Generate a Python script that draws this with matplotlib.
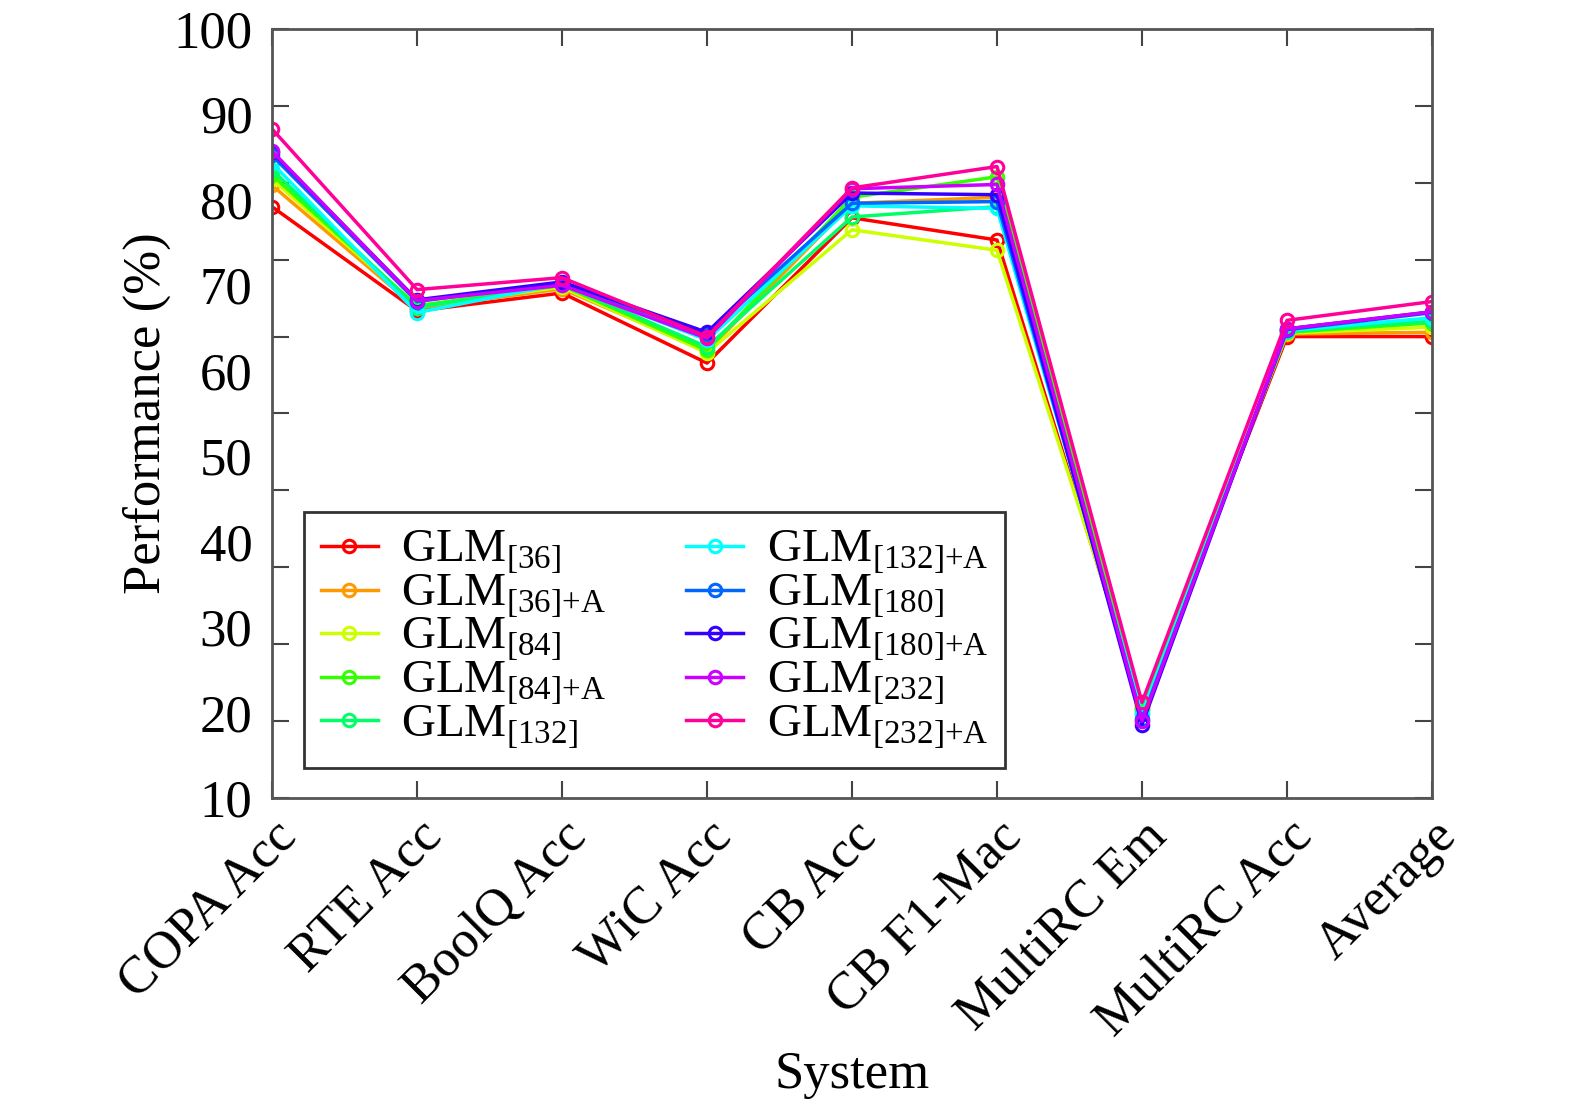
import matplotlib
matplotlib.use('Agg')
import matplotlib.pyplot as plt
import numpy as np

plt.rcParams['font.family'] = ['Liberation Serif', 'DejaVu Serif']
plt.rcParams['mathtext.fontset'] = 'custom'
plt.rcParams['mathtext.rm'] = 'Liberation Serif'

tasks = ['COPA Acc', 'RTE Acc', 'BoolQ Acc', 'WiC Acc', 'CB Acc',
         'CB F1-Mac', 'MultiRC Em', 'MultiRC Acc', 'Average']

names = ['[36]', '[36]+A', '[84]', '[84]+A', '[132]',
         '[132]+A', '[180]', '[180]+A', '[232]', '[232]+A']

glm_36 = [79.2, 67.0, 69.1, 60.9, 77.9, 75.3, 20.5, 64.0, 64.0]
glm_36a = [81.7, 67.3, 69.6, 62.3, 79.6, 80.3, 20.8, 64.3, 64.5]
glm_84 = [82.4, 67.5, 69.8, 62.1, 76.5, 74.1, 21.0, 64.4, 65.1]
glm_84a = [82.9, 67.6, 70.0, 62.4, 80.3, 82.7, 20.3, 64.5, 65.6]
glm_132 = [83.5, 67.4, 70.1, 62.8, 78.0, 79.2, 20.0, 64.6, 65.8]
glm_132a = [84.3, 66.8, 70.2, 63.6, 79.3, 79.0, 19.8, 64.7, 66.2]
glm_180 = [85.2, 68.1, 70.3, 64.3, 79.6, 79.8, 19.2, 64.8, 66.8]
glm_180a = [85.6, 68.3, 70.4, 64.5, 80.8, 80.6, 18.6, 64.9, 66.9]
glm_232 = [85.7, 68.2, 70.0, 63.8, 81.3, 81.8, 19.0, 64.9, 66.9]
glm_232a = [88.3, 69.5, 70.9, 64.0, 81.4, 83.9, 21.2, 65.9, 68.1]

series = [glm_36, glm_36a, glm_84, glm_84a, glm_132,
          glm_132a, glm_180, glm_180a, glm_232, glm_232a]

colors = ['#FF0000', '#FF9900', '#CCFF00', '#33FF00', '#00FF66',
          '#00FFFF', '#0066FF', '#3300FF', '#CC00FF', '#FF0099']

fig = plt.figure(figsize=(15.75, 11.05), dpi=100)
ax = fig.add_axes([0.1727, 0.2778, 0.7365, 0.696])

x = np.arange(len(tasks))
for vals, name, c in zip(series, names, colors):
    inner = name.replace('+', '{+}')
    ax.plot(x, vals, color=c, lw=2.5, marker='o', ms=9, mfc='none',
            mew=2.2, label=r'GLM$_{\mathrm{' + inner + '}}$')

ax.set_xlim(0, 8)
ax.set_ylim(10, 100)

# tick marks and labels do not line up in the original
ax.yaxis.remove_overlapping_locs = False
ax.set_yticks(np.arange(10, 101, 10))
ax.set_yticklabels([str(v) for v in range(10, 101, 10)], fontsize=38)
ax.tick_params(axis='y', which='major', length=0, pad=14)
ax.set_yticks(np.linspace(10, 100, 11), minor=True)
ax.tick_params(axis='y', which='minor', direction='in', length=12, width=1.5,
               color='#444444', right=True)

ax.set_xticks(x)
ax.set_xticklabels(tasks, rotation=45, ha='right', va='top',
                   rotation_mode='anchor', fontsize=38)
ax.tick_params(axis='x', direction='in', length=12, width=1.5,
               color='#444444', top=True, pad=10)

for s in ax.spines.values():
    s.set_color('#555555')
    s.set_linewidth(2)

ax.set_xlabel('System', fontsize=38, labelpad=4)
ax.set_ylabel('Performance (%)', fontsize=38, labelpad=2)

leg = ax.legend(ncol=2, loc='lower left', bbox_to_anchor=(0.028, 0.039),
                borderaxespad=0, fontsize=34, fancybox=False, frameon=True,
                handlelength=1.2, handletextpad=0.5, columnspacing=1.7,
                labelspacing=-0.1, borderpad=0.35)
leg.get_frame().set_edgecolor('black')
leg.get_frame().set_linewidth(2)

fig.savefig('out.png', dpi=100)
